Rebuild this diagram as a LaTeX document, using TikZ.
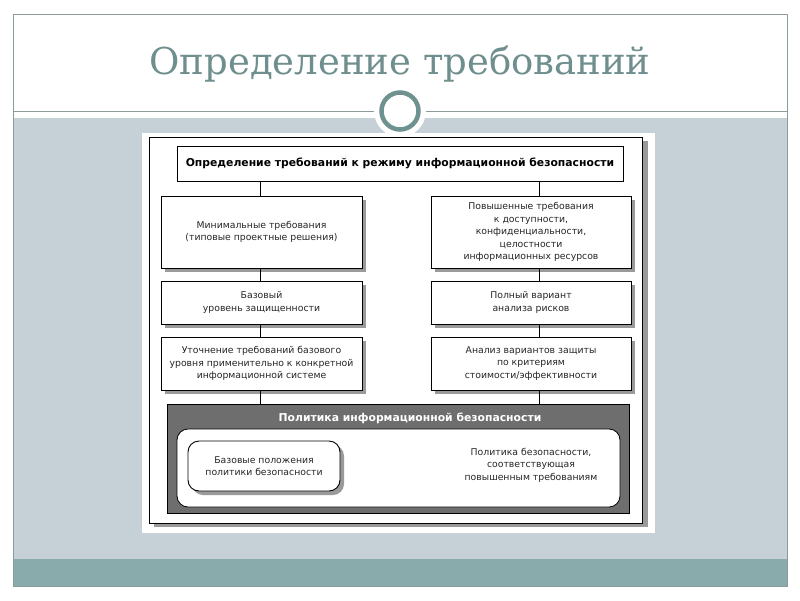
\documentclass[tikz,border=0pt]{standalone}
\usepackage{fontspec}
\setmainfont{DejaVu Sans}
\newfontfamily\titlefont{DejaVu Serif}
\usetikzlibrary{shadows,calc}
\definecolor{bandgrey}{HTML}{C6D0D7}
\definecolor{tealband}{HTML}{89ABAB}
\definecolor{framec}{HTML}{8A9C9C}
\definecolor{titlec}{HTML}{6F8F8E}
\definecolor{ringc}{HTML}{6E9290}
\definecolor{shadowc}{HTML}{9A9A9A}
\definecolor{policyc}{HTML}{6E6E6E}
\definecolor{textc}{HTML}{262626}
\tikzset{
  box/.style={draw=black, line width=0.9pt, fill=white, align=center, inner sep=0pt,
    text=textc, font=\fontsize{9.3}{12.4}\selectfont,
    general shadow={fill=shadowc, shadow xshift=4pt, shadow yshift=-4pt}},
  topbox/.style={draw=black, line width=0.9pt, fill=white, align=center, inner sep=0pt,
    font=\bfseries\fontsize{10.8}{13}\selectfont},
  conn/.style={draw=black, line width=0.7pt}
}
\begin{document}
\begin{tikzpicture}[x=1pt,y=-1pt]
\useasboundingbox (0,0) rectangle (800,600);
\fill[white] (0,0) rectangle (800,600);
% slide bands
\fill[bandgrey] (13,118) rectangle (787,559);
\fill[tealband] (13,559) rectangle (787,586);
\draw[framec, line width=0.8pt] (13,14) rectangle (787,586);
\draw[framec, line width=0.8pt] (13,111) -- (787,111);
% circle ornament
\fill[white] (400,111) circle (26);
\draw[ringc, line width=4.5pt, fill=white] (400,111) circle (18.5);
% title
\node[anchor=base, text=titlec, font=\titlefont\fontsize{37}{42}\selectfont] (title) at (400,74) {Определение требований};
% diagram background
\fill[white] (142,133) rectangle (655,533);
\fill[shadowc] (154,141) rectangle (648,527);
\draw[black, line width=0.9pt, fill=white] (149,137) rectangle (642,523);
% coordinates for connector lines
\coordinate (lx) at (260,0);
\coordinate (rx) at (539,0);
% top node
\node[topbox, minimum width=446pt, minimum height=35pt] (top) at (400,163.5) {Определение требований к режиму информационной безопасности};
% left column
\node[box, minimum width=201pt, minimum height=72pt] (L1) at (261.5,232) {Минимальные требования\\(типовые проектные решения)};
\node[box, minimum width=201pt, minimum height=43pt] (L2) at (261.5,302.5) {Базовый\\уровень защищенности};
\node[box, minimum width=201pt, minimum height=53pt] (L3) at (261.5,363.5) {Уточнение требований базового\\уровня применительно к конкретной\\информационной системе};
% right column
\node[box, minimum width=200pt, minimum height=72pt] (R1) at (531,232) {Повышенные требования\\к доступности,\\конфиденциальности,\\целостности\\информационных ресурсов};
\node[box, minimum width=200pt, minimum height=43pt] (R2) at (531,302.5) {Полный вариант\\анализа рисков};
\node[box, minimum width=200pt, minimum height=53pt] (R3) at (531,363.5) {Анализ вариантов защиты\\по критериям\\стоимости/эффективности};
% policy block
\node[fill=policyc, draw=black, line width=0.6pt, minimum width=462pt, minimum height=109pt, inner sep=0pt] (P) at (398,458.5) {};
\node[text=white, font=\bfseries\fontsize{10.8}{13}\selectfont] (Ptitle) at (410,418) {Политика информационной безопасности};
\node[draw=black, line width=0.8pt, fill=white, rounded corners=11pt, minimum width=443pt, minimum height=78pt, inner sep=0pt] (Pin) at (398.5,468) {};
\node[box, rounded corners=11pt, minimum width=152pt, minimum height=50pt] (B) at (264,466) {Базовые положения\\политики безопасности};
\node[align=center, text=textc, font=\fontsize{9.3}{12.4}\selectfont] (Ptext) at (531,465) {Политика безопасности,\\соответствующая\\повышенным требованиям};
% connectors
\draw[conn] (top.south -| lx) -- (L1.north -| lx);
\draw[conn] (L1.south -| lx) -- (L2.north -| lx);
\draw[conn] (L2.south -| lx) -- (L3.north -| lx);
\draw[conn] (L3.south -| lx) -- (P.north -| lx);
\draw[conn] (top.south -| rx) -- (R1.north -| rx);
\draw[conn] (R1.south -| rx) -- (R2.north -| rx);
\draw[conn] (R2.south -| rx) -- (R3.north -| rx);
\draw[conn] (R3.south -| rx) -- (P.north -| rx);
\end{tikzpicture}
\end{document}
